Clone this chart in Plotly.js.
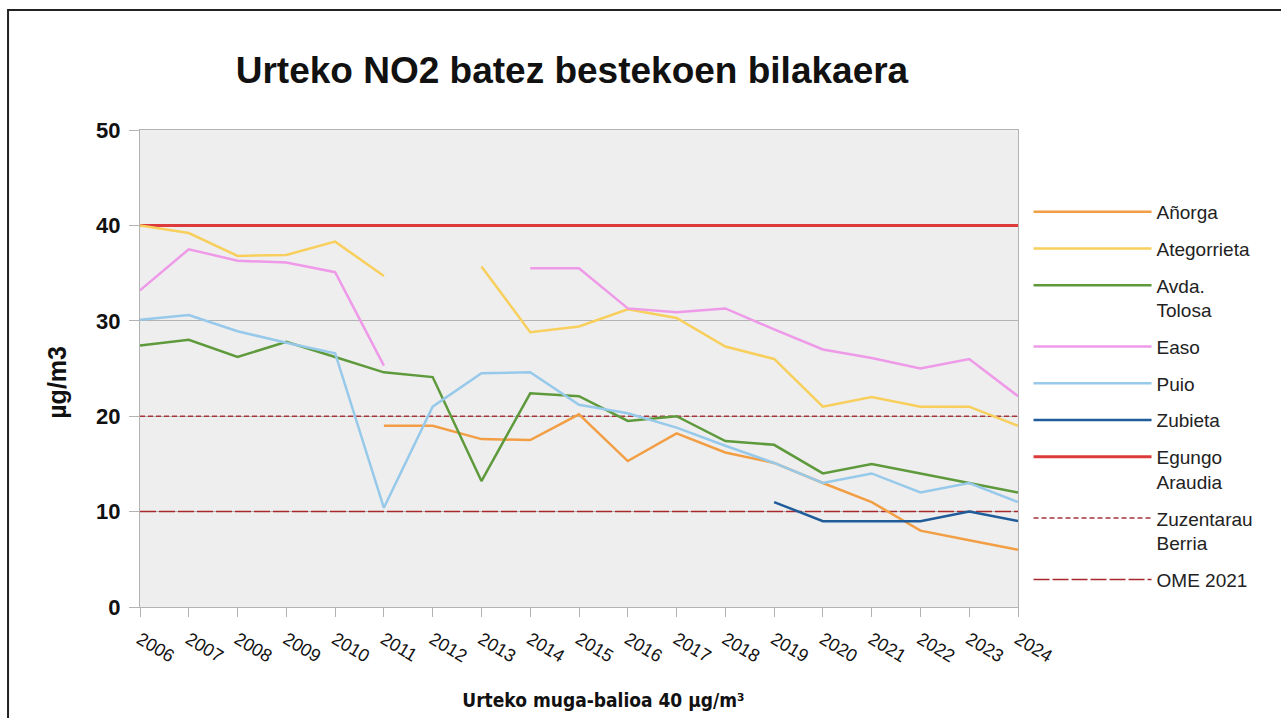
<!DOCTYPE html>
<html>
<head>
<meta charset="utf-8">
<script src="https://cdn.plot.ly/plotly-3.0.1.min.js"></script>
<style>html,body{margin:0;padding:0;background:#fff;}#chart{width:1281px;height:718px;}</style>
</head>
<body>
<div id="chart"></div>
<script>
const years = [2006,2007,2008,2009,2010,2011,2012,2013,2014,2015,2016,2017,2018,2019,2020,2021,2022,2023,2024];
const yearLabels = years.map(String);

const anorga      = [null,null,null,null,null,19,19,17.6,17.5,20.2,15.3,18.2,16.2,15.1,13,11,8,7,6];
const ategorrieta = [40,39.2,36.8,36.9,38.3,34.7,null,35.7,28.8,29.4,31.2,30.3,27.3,26,21,22,21,21,19];
const avdaTolosa  = [27.4,28,26.2,27.8,26.2,24.6,24.1,13.2,22.4,22.1,19.5,20,17.4,17,14,15,14,13,12];
const easo        = [33.2,37.5,36.3,36.1,35.1,25.3,null,null,35.5,35.5,31.3,30.9,31.3,29.1,27,26.1,25,26,22.1];
const puio        = [30.1,30.6,28.9,27.7,26.6,10.4,21,24.5,24.6,21.2,20.3,18.8,16.9,15.1,13,14,12,13,11];
const zubieta     = [null,null,null,null,null,null,null,null,null,null,null,null,null,11,9,9,9,10,9];
const egungoAraudia    = years.map(() => 40);
const zuzentarauBerria = years.map(() => 20);
const ome2021          = years.map(() => 10);

const seriesNames = ['Añorga','Ategorrieta','Avda.<br>Tolosa','Easo','Puio','Zubieta','Egungo<br>Araudia','Zuzentarau<br>Berria','OME 2021'];
const seriesData = [anorga, ategorrieta, avdaTolosa, easo, puio, zubieta, egungoAraudia, zuzentarauBerria, ome2021];
const seriesStyle = [
  {color:'#f29e45', width:2.5, dash:'solid'},
  {color:'#f8cf5c', width:2.5, dash:'solid'},
  {color:'#5e9a3c', width:2.5, dash:'solid'},
  {color:'#ee9ae8', width:2.5, dash:'solid'},
  {color:'#97c9ea', width:2.5, dash:'solid'},
  {color:'#1f5c99', width:2.5, dash:'solid'},
  {color:'#dd3a3c', width:3, dash:'solid'},
  {color:'#a8343a', width:1.5, dash:'5px,3px'},
  {color:'#a8282c', width:1.5, dash:'16px,3px'}
];

const traces = seriesData.map((d,i) => ({
  type:'scatter', mode:'lines', x:years, y:d, name:seriesNames[i],
  legendgroup:'g'+i, legendrank:i+1, connectgaps:false,
  line:{color:seriesStyle[i].color, width:seriesStyle[i].width, dash:seriesStyle[i].dash},
  hoverinfo:'skip'
}));
// draw limit lines beneath data
const ordered = [traces[6],traces[7],traces[8]].concat(traces.slice(0,6));

const nb = n => '&nbsp;'.repeat(n);

const layout = {
  width:1281, height:718,
  margin:{l:140, r:263, t:130, b:111},
  paper_bgcolor:'#ffffff', plot_bgcolor:'#eeeeee',
  font:{family:'Liberation Sans, Arial, sans-serif', color:'#111'},
  title:{text:'<b>Urteko NO2 batez bestekoen bilakaera</b>', font:{size:37, family:'Liberation Sans', color:'#111'},
         xref:'paper', x:0.492, xanchor:'center', yref:'container', y:0.902, yanchor:'middle'},
  xaxis:{type:'linear', range:[2006,2024], tickvals:years, ticktext:yearLabels, tickangle:31,
         showgrid:false, zeroline:false, showline:true, mirror:true, linecolor:'#b3b3b3', linewidth:1,
         ticks:'outside', ticklen:9, tickcolor:'#b3b3b3', ticklabelstandoff:5,
         tickfont:{size:18, family:'Liberation Sans', color:'#111'},
         title:{text:nb(9) + '<b>Urteko muga-balioa 40 µg/m³</b>', font:{size:19, family:'Liberation Sans Narrow, DejaVu Sans Condensed, Liberation Sans, sans-serif', color:'#111'}, standoff:28}},
  yaxis:{range:[0,50], tickvals:[0,10,20,30,40,50], showgrid:true, gridcolor:'#b3b3b3', gridwidth:1,
         zeroline:false, showline:true, mirror:true, linecolor:'#b3b3b3', linewidth:1,
         ticks:'outside', ticklen:10, tickcolor:'#b3b3b3', ticklabelstandoff:4,
         tickfont:{size:22, family:'Liberation Sans', color:'#111', weight:'bold'},
         title:{text:'<b>µg/m3</b>' + nb(4), font:{size:25, family:'Liberation Sans', color:'#111'}, standoff:22}},
  legend:{x:1.012, xanchor:'left', y:0.868, yanchor:'top', itemwidth:118, valign:'top',
          traceorder:'grouped', tracegroupgap:9,
          font:{size:19, family:'Liberation Sans', color:'#222'}, bgcolor:'rgba(0,0,0,0)'},
  shapes:[{type:'rect', xref:'paper', yref:'paper', x0:-0.1503, x1:2, y0:-1, y1:1.2516,
           line:{color:'#222', width:2}, fillcolor:'rgba(0,0,0,0)', layer:'below'}],
  showlegend:true
};

Plotly.newPlot('chart', ordered, layout, {displayModeBar:false, staticPlot:true});
</script>
</body>
</html>
